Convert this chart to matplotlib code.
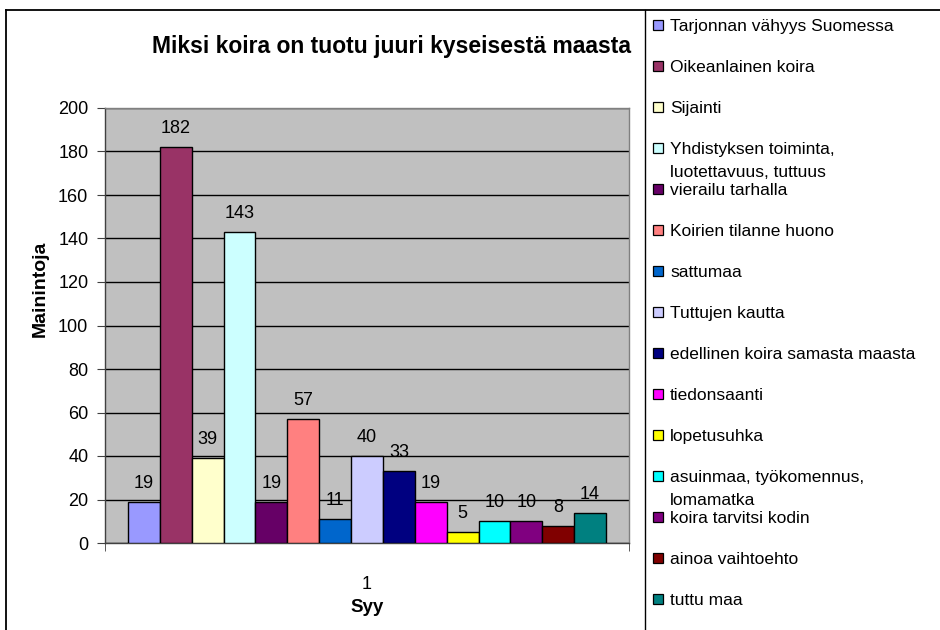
import matplotlib.pyplot as plt
from matplotlib.patches import Rectangle
from matplotlib.lines import Line2D

plt.rcParams['font.family'] = ['Liberation Sans', 'DejaVu Sans']

# Data
syyt = ["Tarjonnan vähyys Suomessa", "Oikeanlainen koira", "Sijainti",
        "Yhdistyksen toiminta,\nluotettavuus, tuttuus", "vierailu tarhalla",
        "Koirien tilanne huono", "sattumaa", "Tuttujen kautta",
        "edellinen koira samasta maasta", "tiedonsaanti", "lopetusuhka",
        "asuinmaa, työkomennus,\nlomamatka", "koira tarvitsi kodin",
        "ainoa vaihtoehto", "tuttu maa"]
maininnat = [19, 182, 39, 143, 19, 57, 11, 40, 33, 19, 5, 10, 10, 8, 14]
varit = ["#9999FF", "#993366", "#FFFFCC", "#CCFFFF", "#660066", "#FF8080",
         "#0066CC", "#CCCCFF", "#000080", "#FF00FF", "#FFFF00", "#00FFFF",
         "#800080", "#800000", "#008080"]

fig = plt.figure(figsize=(9.4, 6.3), dpi=100)
W, H = 940, 630


def fx(px):
    return px / W


def fy(py):
    return 1 - py / H


ax = fig.add_axes([fx(105), fy(543), (629 - 105) / W, (543 - 108) / H])
ax.set_facecolor("#C0C0C0")

n = len(maininnat)
w = 478 / 524 / n
for i, (v, c) in enumerate(zip(maininnat, varit)):
    x = 1 + (i - (n - 1) / 2) * w
    ax.bar(x, v, width=w, color=c, edgecolor="black", linewidth=1.0, zorder=3)
    ax.annotate(str(v), (x, v), xytext=(0, 10), textcoords="offset points",
                ha="center", va="baseline", fontsize=13, zorder=4)

ax.set_xlim(0.5, 1.5)
ax.set_ylim(0, 200)
ax.set_yticks(range(0, 201, 20))
ax.yaxis.grid(True, color="black", linewidth=1.0)
ax.set_axisbelow(True)
ax.tick_params(axis="y", direction="out", length=6, labelsize=13, color="#404040", pad=6)
ax.set_xticks([0.5, 1.5], minor=True)
ax.set_xticks([1])
ax.set_xticklabels(["1"], fontsize=13)
ax.tick_params(axis="x", which="major", length=0, pad=24)
ax.tick_params(axis="x", which="minor", direction="out", length=6, color="#404040")
for s in ax.spines.values():
    s.set_color("#808080")
    s.set_linewidth(1.0)
ax.spines["bottom"].set_color("#404040")
ax.spines["left"].set_color("#404040")

# Axis titles
fig.text(fx(367), fy(607), "Syy", ha="center", va="center", fontsize=13.5, fontweight="bold")
fig.text(fx(40), fy(289), "Mainintoja", ha="center", va="center", rotation=90,
         fontsize=14, fontweight="bold")

fig.text(fx(391), fy(47), "Miksi koira on tuotu juuri kyseisestä maasta",
         ha="center", va="center", fontsize=16.5, fontweight="bold")

# Outer frame and legend frame
fig.add_artist(Line2D([fx(6), fx(6)], [0, fy(10)], transform=fig.transFigure, color="black", linewidth=1.3))
fig.add_artist(Line2D([fx(6), 1], [fy(10), fy(10)], transform=fig.transFigure, color="black", linewidth=1.3))
fig.add_artist(Line2D([fx(645), fx(645)], [0, fy(10)], transform=fig.transFigure, color="black", linewidth=1.0))

# Legend (Excel-style: fixed row spacing, second lines overflow)
for i, (lab, c) in enumerate(zip(syyt, varit)):
    yc = 25 + 41 * i
    fig.add_artist(Rectangle((fx(653), fy(yc + 5)), 10 / W, 10 / H, transform=fig.transFigure,
                             facecolor=c, edgecolor="black", linewidth=0.9))
    for k, rivi in enumerate(lab.split("\n")):
        fig.text(fx(670), fy(yc + 6 + 23 * k), rivi, ha="left", va="baseline", fontsize=12.5)

fig.savefig("out.png", dpi=100)
